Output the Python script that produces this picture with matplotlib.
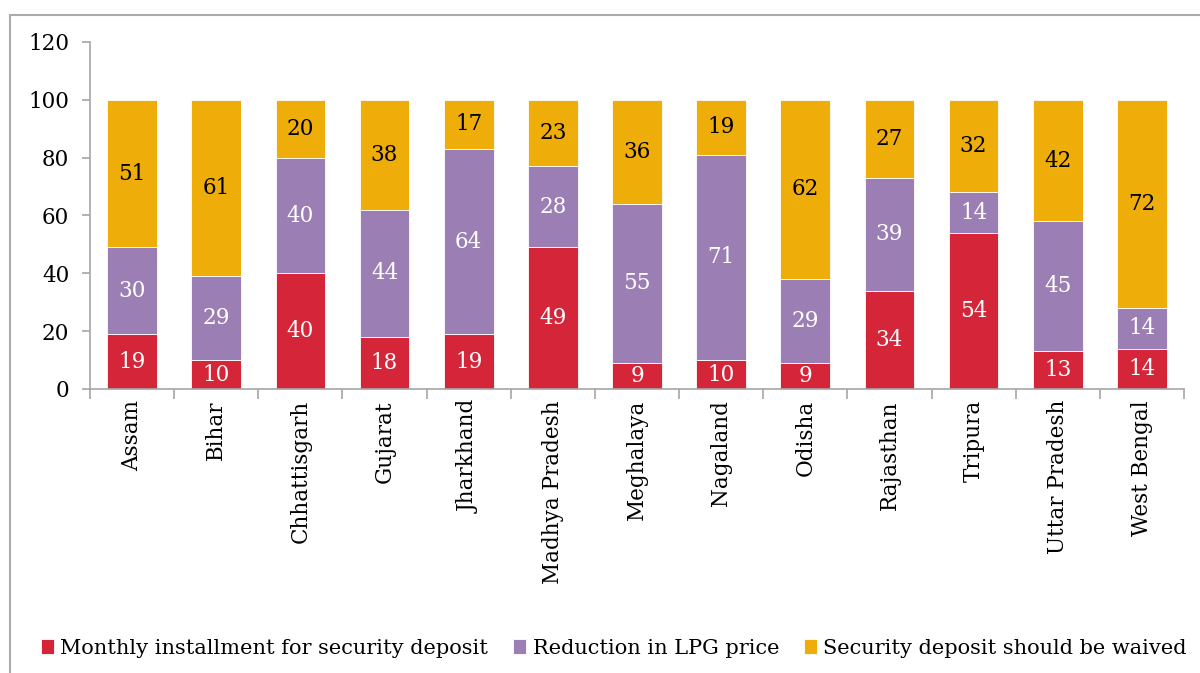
import matplotlib
matplotlib.use("Agg")
import matplotlib.pyplot as plt
from matplotlib.patches import Rectangle
import numpy as np

states = ["Assam", "Bihar", "Chhattisgarh", "Gujarat", "Jharkhand", "Madhya Pradesh",
          "Meghalaya", "Nagaland", "Odisha", "Rajasthan", "Tripura", "Uttar Pradesh",
          "West Bengal"]
monthly_installment = [19, 10, 40, 18, 19, 49, 9, 10, 9, 34, 54, 13, 14]
lpg_price_reduction = [30, 29, 40, 44, 64, 28, 55, 71, 29, 39, 14, 45, 14]
deposit_waived = [51, 61, 20, 38, 17, 23, 36, 19, 62, 27, 32, 42, 72]

series_names = ["Monthly installment for security deposit",
                "Reduction in LPG price",
                "Security deposit should be waived"]
colors = ["#D42539", "#9B7EB3", "#EEAD08"]
label_colors = ["white", "white", "black"]

plt.rcParams["font.family"] = ["DejaVu Serif"]

fig = plt.figure(figsize=(12, 6.73), dpi=100)
fig.patches.append(Rectangle((10 / 1200, -0.1), 1.2, 1 - 15 / 673 + 0.1,
                             transform=fig.transFigure, fill=False,
                             edgecolor="#ABABAB", linewidth=1.5))
ax = fig.add_axes([90 / 1200, 1 - 389 / 673, (1184 - 90) / 1200, (389 - 42) / 673])

x = np.arange(len(states))
bottom = np.zeros(len(states))
handles = []
for vals, name, col, lc in zip([monthly_installment, lpg_price_reduction, deposit_waived],
                               series_names, colors, label_colors):
    vals = np.array(vals, dtype=float)
    bars = ax.bar(x, vals, 0.59, bottom=bottom, color=col, edgecolor="white",
                  linewidth=0.6, label=name)
    handles.append(bars)
    for xi, b, v in zip(x, bottom, vals):
        ax.text(xi, b + v / 2, f"{int(v)}", ha="center", va="center",
                color=lc, fontsize=15.5)
    bottom += vals

ax.set_xlim(-0.5, len(states) - 0.5)
ax.set_ylim(0, 120)
ax.set_yticks(range(0, 121, 20))
ax.tick_params(axis="y", labelsize=15.5, length=6, color="#A6A6A6", width=1.2, pad=9)
ax.set_xticks(x)
ax.set_xticklabels(states, rotation=90, fontsize=15.5)
ax.tick_params(axis="x", length=0, pad=8)
ax.set_xticks(np.arange(-0.5, len(states)), minor=True)
ax.tick_params(axis="x", which="minor", length=7, color="#A6A6A6", width=1.2)

for side in ["top", "right"]:
    ax.spines[side].set_visible(False)
for side in ["left", "bottom"]:
    ax.spines[side].set_color("#A6A6A6")
    ax.spines[side].set_linewidth(1.2)

fig.legend(handles=handles, labels=series_names, loc="center",
           bbox_to_anchor=(614 / 1200, 1 - 648 / 673), ncol=3, frameon=False,
           fontsize=15, handlelength=0.62, handleheight=0.75, handletextpad=0.3,
           columnspacing=1.2, borderpad=0, borderaxespad=0)

fig.savefig("out.png", dpi=100)
